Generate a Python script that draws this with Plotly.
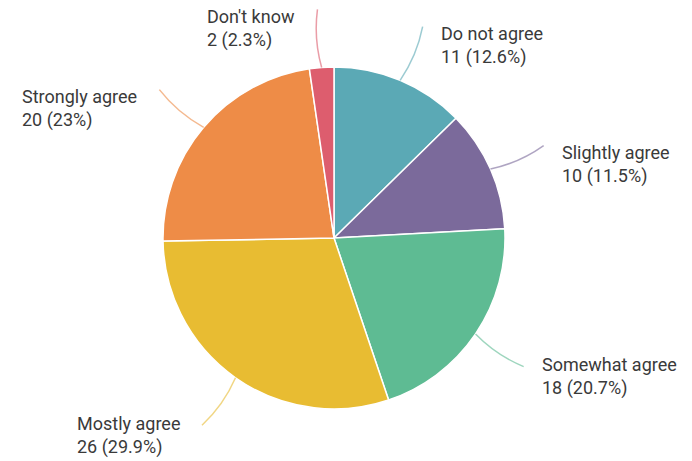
import math
import plotly.graph_objects as go

labels = ["Do not agree", "Slightly agree", "Somewhat agree", "Mostly agree", "Strongly agree", "Don't know"]
values = [11, 10, 18, 26, 20, 2]
pct_text = ["12.6%", "11.5%", "20.7%", "29.9%", "23%", "2.3%"]
colors = ["#5BA9B5", "#7B6A9B", "#5EBB93", "#E8BC32", "#EE8C47", "#DD5D6E"]

W, H = 692, 461
cx, cy, R = 334, 238, 171  # pixel layout of the pie

fig = go.Figure(go.Pie(
    labels=labels, values=values, sort=False, direction="clockwise", rotation=0,
    marker=dict(colors=colors, line=dict(color="white", width=1.5)),
    textinfo="none", hoverinfo="label+value+percent", showlegend=False,
    domain=dict(x=[(cx - R) / W, (cx + R) / W], y=[(H - cy - R) / H, (H - cy + R) / H]),
))

def px(x, y):
    return x / W, (H - y) / H

total = sum(values)
cum = 0
shapes, annotations = [], []
for lab, v, p, col in zip(labels, values, pct_text, colors):
    mid = (cum + v / 2) / total * 2 * math.pi
    cum += v
    s, c = math.sin(mid), math.cos(mid)
    x0, y0 = cx + R * s, cy - R * c
    r1 = R * 1.34
    x1, y1 = cx + r1 * s, cy - r1 * c
    rm = R * 1.17
    dmid = mid + (0.03 if s >= 0 else -0.03)
    xm, ym = cx + rm * math.sin(dmid), cy - rm * math.cos(dmid)
    a0, b0 = px(x0, y0)
    am, bm = px(xm, ym)
    a1, b1 = px(x1, y1)
    shapes.append(dict(type="path", xref="paper", yref="paper",
                       path=f"M {a0},{b0} Q {am},{bm} {a1},{b1}",
                       line=dict(color=col, width=1.5), opacity=0.6))
    if s >= 0:
        tx, anchor = x1 + 16, "left"
    else:
        tx, anchor = x1 - 20, "right"
    dy = 19 if c > 0 else 10
    ax_, ay_ = px(tx, y1 + dy)
    annotations.append(dict(
        xref="paper", yref="paper", x=ax_, y=ay_, xanchor=anchor, yanchor="middle",
        text=f"{lab}<br>{v} ({p})", showarrow=False, align="left",
        font=dict(family="Roboto", size=18, color="#3a3a3a"),
    ))

fig.update_layout(
    width=W, height=H, margin=dict(l=0, r=0, t=0, b=0),
    paper_bgcolor="white", plot_bgcolor="white",
    shapes=shapes, annotations=annotations,
)
fig.write_html("out.html")
